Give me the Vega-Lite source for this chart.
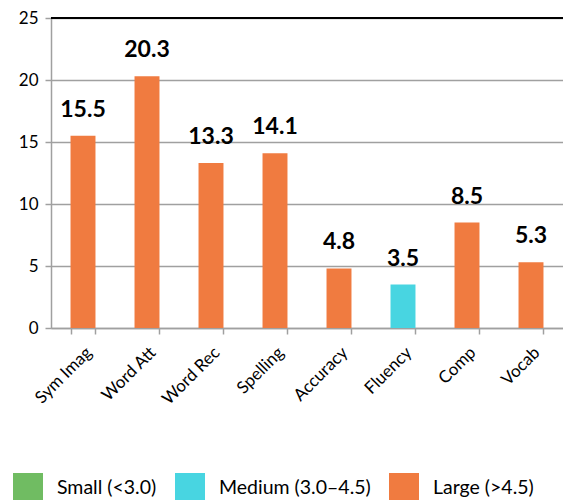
{
  "$schema": "https://vega.github.io/schema/vega-lite/v6.json",
  "width": 512,
  "height": 310,
  "autosize": "none",
  "padding": {"left": 51, "top": 18, "right": 0, "bottom": 172},
  "background": "white",
  "data": {
    "values": [
      {"test": "Sym Imag", "effect": 15.5, "size": "Large (>4.5)"},
      {"test": "Word Att", "effect": 20.3, "size": "Large (>4.5)"},
      {"test": "Word Rec", "effect": 13.3, "size": "Large (>4.5)"},
      {"test": "Spelling", "effect": 14.1, "size": "Large (>4.5)"},
      {"test": "Accuracy", "effect": 4.8, "size": "Large (>4.5)"},
      {"test": "Fluency", "effect": 3.5, "size": "Medium (3.0–4.5)"},
      {"test": "Comp", "effect": 8.5, "size": "Large (>4.5)"},
      {"test": "Vocab", "effect": 5.3, "size": "Large (>4.5)"}
    ]
  },
  "encoding": {
    "x": {
      "field": "test",
      "type": "nominal",
      "sort": null,
      "title": null,
      "scale": {"paddingInner": 0.61, "paddingOuter": 0.305},
      "axis": {
        "tickBand": "extent",
        "labelAngle": -45,
        "labelFont": "Lato",
        "labelFontSize": 17,
        "labelColor": "#000000",
        "domainColor": "#A0A0A0",
        "domainWidth": 1.5,
        "tickColor": "#A0A0A0",
        "tickWidth": 1.5,
        "tickSize": 6,
        "labelPadding": 10
      }
    },
    "y": {
      "field": "effect",
      "type": "quantitative",
      "title": null,
      "scale": {"domain": [0, 25], "nice": false},
      "axis": {
        "values": [0, 5, 10, 15, 20, 25],
        "labelFont": "Lato",
        "labelFontSize": 17,
        "labelColor": "#000000",
        "labelPadding": 7,
        "domainColor": "#A0A0A0",
        "domainWidth": 1.5,
        "tickColor": "#A0A0A0",
        "tickWidth": 1.5,
        "tickSize": 6,
        "gridColor": "#A0A0A0",
        "gridWidth": 1.5
      }
    }
  },
  "layer": [
    {
      "mark": {"type": "bar"},
      "encoding": {
        "color": {
          "field": "size",
          "type": "nominal",
          "title": null,
          "scale": {
            "domain": ["Small (<3.0)", "Medium (3.0–4.5)", "Large (>4.5)"],
            "range": ["#70BC62", "#48D5E1", "#F07B40"]
          },
          "legend": {
            "orient": "none",
            "direction": "horizontal",
            "legendX": -38,
            "legendY": 455,
            "padding": 0,
            "symbolType": "square",
            "symbolSize": 900,
            "symbolStrokeWidth": 0,
            "symbolOpacity": 1,
            "labelFont": "Lato",
            "labelFontSize": 19.5,
            "labelColor": "#000000",
            "labelOffset": 14,
            "labelLimit": 300,
            "columnPadding": 18
          }
        }
      }
    },
    {
      "mark": {
        "type": "text",
        "dy": -19,
        "baseline": "alphabetic",
        "font": "Lato",
        "fontSize": 23,
        "fontWeight": "bold",
        "color": "#000000"
      },
      "encoding": {
        "text": {"field": "effect", "type": "quantitative", "format": ".1f"}
      }
    },
    {
      "mark": {"type": "rule", "color": "#000000", "strokeWidth": 1.5},
      "encoding": {"y": {"datum": 25}, "x": null}
    }
  ],
  "config": {
    "view": {"stroke": null}
  }
}
